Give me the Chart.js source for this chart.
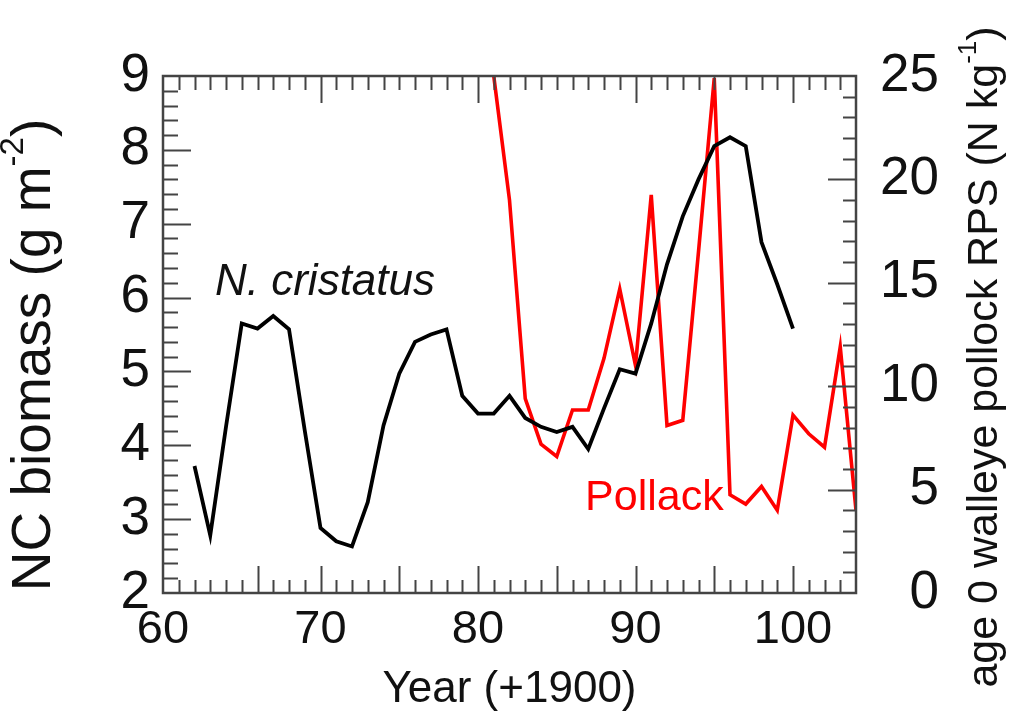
<!DOCTYPE html>
<html>
<head>
<meta charset="utf-8">
<script src="https://cdn.jsdelivr.net/npm/chart.js@4.4.1/dist/chart.umd.min.js"></script>
<style>
  html, body { margin: 0; padding: 0; background: #fff; }
  #wrap { width: 1009px; height: 721px; }
</style>
</head>
<body>
<div id="wrap"><canvas id="chart" width="1009" height="721"></canvas></div>
<script>
// N. cristatus biomass (g m-2), left axis
const ncYears = [62, 63, 64, 65, 66, 67, 68, 69, 70, 71, 72, 73, 74, 75, 76, 77, 78, 79, 80, 81,
                 82, 83, 84, 85, 86, 87, 88, 89, 90, 91, 92, 93, 94, 95, 96, 97, 98, 99, 100];
const ncBiomass = [3.72, 2.78, 4.25, 5.65, 5.58, 5.75, 5.57, 4.2, 2.88, 2.7, 2.63, 3.23, 4.27, 4.97, 5.4, 5.5, 5.57, 4.67, 4.43, 4.43,
                   4.67, 4.37, 4.25, 4.18, 4.25, 3.95, 4.5, 5.03, 4.97, 5.65, 6.45, 7.1, 7.6, 8.05, 8.17, 8.05, 6.75, 6.18, 5.58];

// age 0 walleye pollock RPS (N kg-1), right axis
const pollackYears = [81, 82, 83, 84, 85, 86, 87, 88, 89, 90, 91, 92, 93, 94, 95, 96, 97, 98, 99, 100, 101, 102, 103, 104];
const pollackRps = [25, 19.0, 9.4, 7.2, 6.6, 8.85, 8.85, 11.35, 14.7, 11.0, 19.25, 8.1, 8.35, 16.5, 24.9, 4.75, 4.3, 5.15, 4.0, 8.6, 7.7, 7.05, 11.9, 4.0];

const xTickLabels = [60, 70, 80, 90, 100];
const leftTickLabels = [2, 3, 4, 5, 6, 7, 8, 9];
const rightTickLabels = [0, 5, 10, 15, 20, 25];
const bottomLongTicks = [66, 70, 75, 80, 85, 90, 95, 100];
const topLongTicks = [70, 80, 90, 100];

const FONT = "'Liberation Sans', Arial, Helvetica, sans-serif";
const frameColor = '#444444';

function toPoints(xs, ys) {
    return xs.map((v, i) => ({ x: v, y: ys[i] }));
}

// rotated text with a superscript part
function drawRotatedTitle(ctx, cx, cy, angle, size, base, sup, tail) {
    ctx.save();
    ctx.translate(cx, cy);
    ctx.rotate(angle);
    const supSize = Math.round(size * 0.6);
    ctx.font = size + 'px ' + FONT;
    const wBase = ctx.measureText(base).width;
    const wTail = ctx.measureText(tail).width;
    ctx.font = supSize + 'px ' + FONT;
    const wSup = ctx.measureText(sup).width;
    let x = -(wBase + wSup + wTail) / 2;
    ctx.textBaseline = 'middle';
    ctx.textAlign = 'left';
    ctx.fillStyle = '#111';
    ctx.font = size + 'px ' + FONT;
    ctx.fillText(base, x, 0);
    x += wBase;
    ctx.font = supSize + 'px ' + FONT;
    ctx.fillText(sup, x, -size * 0.38);
    x += wSup;
    ctx.font = size + 'px ' + FONT;
    ctx.fillText(tail, x, 0);
    ctx.restore();
}

const frameAndTicks = {
    id: 'frameAndTicks',
    afterDatasetsDraw(chart) {
        const { ctx, chartArea: a, scales: { x, y, y1 } } = chart;
        ctx.save();
        ctx.strokeStyle = frameColor;
        ctx.lineWidth = 2;
        ctx.beginPath();
        // year ticks, bottom and top, pointing in
        for (let yr = 61; yr <= 103; yr++) {
            const px = Math.round(x.getPixelForValue(yr)) + 0.5;
            const bl = bottomLongTicks.includes(yr) ? 27 : 13;
            const tl = topLongTicks.includes(yr) ? 27 : 14;
            ctx.moveTo(px, a.bottom); ctx.lineTo(px, a.bottom - bl);
            ctx.moveTo(px, a.top); ctx.lineTo(px, a.top + tl);
        }
        // left axis: minor every 0.2
        for (let i = 1; i < 35; i++) {
            const py = Math.round(y.getPixelForValue(2 + i * 0.2)) + 0.5;
            const len = i % 5 === 0 ? 28 : 15;
            ctx.moveTo(a.left, py); ctx.lineTo(a.left + len, py);
        }
        // right axis: minor every 1
        for (let v = 1; v < 25; v++) {
            const py = Math.round(y1.getPixelForValue(v)) + 0.5;
            const len = v % 5 === 0 ? 28 : 13;
            ctx.moveTo(a.right, py); ctx.lineTo(a.right - len, py);
        }
        ctx.stroke();
        ctx.lineWidth = 2.5;
        ctx.strokeRect(a.left, a.top, a.right - a.left, a.bottom - a.top);
        ctx.restore();
    },
    afterDraw(chart) {
        const { ctx, chartArea: a, scales: { x, y, y1 } } = chart;
        ctx.save();
        // series labels
        ctx.textBaseline = 'alphabetic';
        ctx.textAlign = 'left';
        ctx.font = 'italic 44px ' + FONT;
        ctx.fillStyle = '#111';
        ctx.fillText('N. cristatus', x.getPixelForValue(63.3), y.getPixelForValue(6.03));
        ctx.font = '43px ' + FONT;
        ctx.fillStyle = '#ff0000';
        ctx.fillText('Pollack', x.getPixelForValue(86.8), y1.getPixelForValue(4.0));
        // x title
        ctx.fillStyle = '#111';
        ctx.textAlign = 'center';
        ctx.textBaseline = 'middle';
        ctx.font = '44px ' + FONT;
        ctx.fillText('Year (+1900)', (a.left + a.right) / 2, 690);
        ctx.restore();
        drawRotatedTitle(ctx, 35, 355, -Math.PI / 2, 55, 'NC biomass (g m', '-2', ')');
        drawRotatedTitle(ctx, 985, 357, -Math.PI / 2, 43, 'age 0 walleye pollock RPS (N kg', '-1', ')');
    }
};

const ctx = document.getElementById('chart').getContext('2d');
new Chart(ctx, {
    type: 'line',
    data: {
        datasets: [{
            label: 'N. cristatus',
            data: toPoints(ncYears, ncBiomass),
            yAxisID: 'y',
            borderColor: '#000000',
            borderWidth: 3.8,
            pointRadius: 0,
            tension: 0,
            borderJoinStyle: 'miter'
        }, {
            label: 'Pollack',
            data: toPoints(pollackYears, pollackRps),
            yAxisID: 'y1',
            borderColor: '#ff0000',
            borderWidth: 3.6,
            pointRadius: 0,
            tension: 0
        }]
    },
    options: {
        responsive: false,
        animation: false,
        devicePixelRatio: 1,
        layout: { padding: { top: 76, left: 0, right: 70, bottom: 0 } },
        plugins: { legend: { display: false }, tooltip: { enabled: false } },
        scales: {
            x: {
                type: 'linear',
                min: 60,
                max: 104,
                grid: { display: false, drawTicks: false },
                border: { display: false },
                afterBuildTicks: s => { s.ticks = xTickLabels.map(v => ({ value: v })); },
                afterFit: s => { s.height = 128; },
                ticks: {
                    padding: 9,
                    maxRotation: 0,
                    autoSkip: false,
                    color: '#111',
                    font: { family: FONT, size: 47 }
                }
            },
            y: {
                position: 'left',
                min: 2,
                max: 9,
                grid: { display: false, drawTicks: false },
                border: { display: false },
                afterBuildTicks: s => { s.ticks = leftTickLabels.map(v => ({ value: v })); },
                afterFit: s => { s.width = 163; },
                ticks: {
                    padding: 13,
                    color: '#111',
                    font: { family: FONT, size: 53 }
                }
            },
            y1: {
                position: 'right',
                min: 0,
                max: 25,
                grid: { display: false, drawTicks: false },
                border: { display: false },
                afterBuildTicks: s => { s.ticks = rightTickLabels.map(v => ({ value: v })); },
                afterFit: s => { s.width = 83; },
                ticks: {
                    padding: 0,
                    crossAlign: 'far',
                    color: '#111',
                    font: { family: FONT, size: 53 }
                }
            }
        }
    },
    plugins: [frameAndTicks]
});
</script>
</body>
</html>
